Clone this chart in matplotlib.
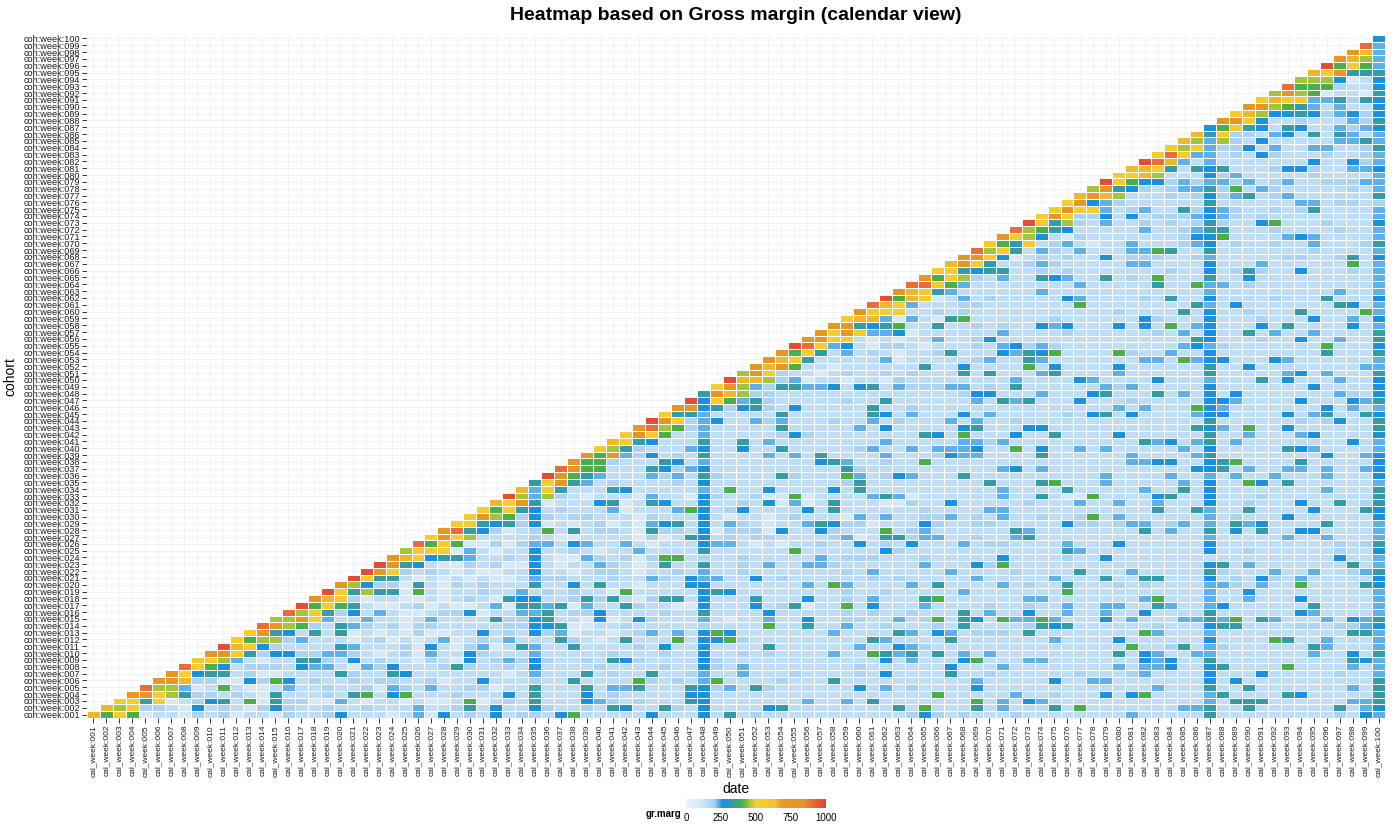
import numpy as np
import matplotlib
matplotlib.use("Agg")
import matplotlib.pyplot as plt
from matplotlib.colors import LinearSegmentedColormap, Normalize
import matplotlib.colorbar as mcolorbar

plt.rcParams['font.family'] = ['Liberation Sans', 'DejaVu Sans']

# ---------------- data ----------------
n_weeks = 100
cohorts = ["coh:week:%03d" % i for i in range(1, n_weeks + 1)]
cal_weeks = ["cal_week:%03d" % i for i in range(1, n_weeks + 1)]

# gross margin value read for each colour level seen in the picture
code_values = {'0': 30, '1': 90, '2': 150, '3': 195, '4': 232, '5': 262,
               '6': 330, '7': 400, '8': 455, '9': 540, 'a': 650, 'b': 740,
               'c': 900, 'd': 980}

# row i = cohort i, starting at calendar week i (values coded with code_values)
gr_marg_codes = [
 "a7971" "22132" "31221" "32235" "22212" "41523" "252" "33257" "22222" "52225" "26232" "22222" "22222" "353" "23222" "32222" "22224" "22222" "62222" "22222" "3254",
 "a8933" "21523" "21353" "22322" "32224" "22362" "52" "25322" "32652" "26325" "22225" "62222" "22226" "272" "22624" "22262" "72222" "22244" "62262" "22222" "6245",
 "99691" "23562" "71633" "11421" "22121" "12712" "3" "26222" "54323" "22265" "22222" "22422" "42622" "222" "22724" "25422" "22222" "22222" "42666" "22222" "2446",
 "bb986" "33232" "16222" "32672" "57222" "32225" "26222" "52322" "22255" "22222" "22222" "22222" "227" "22222" "42232" "22525" "72222" "46222" "26522" "2226",
 "c8841" "27211" "24223" "22314" "32422" "3312" "26222" "62446" "22265" "34263" "22222" "25242" "322" "22522" "22222" "22222" "24222" "62262" "22222" "2426",
 "bba33" "11537" "52322" "32332" "23122" "522" "23226" "22227" "32324" "72222" "32226" "22222" "222" "22422" "22252" "24422" "22222" "52522" "22222" "2226",
 "b9566" "23112" "22263" "22652" "22222" "21" "24222" "62322" "62234" "22422" "23222" "23252" "222" "62232" "22222" "32223" "42222" "52225" "22222" "3224",
 "c9752" "33325" "44214" "35222" "36322" "3" "25222" "23222" "23225" "32422" "22222" "23222" "222" "52224" "22222" "22242" "44522" "56222" "27222" "2424",
 "99842" "12266" "32523" "22132" "15234" "35322" "32653" "22225" "32222" "22222" "22252" "422" "25722" "24422" "22222" "54522" "62222" "22222" "2654",
 "bb963" "55334" "43212" "31422" "5322" "24222" "22322" "23225" "22323" "22224" "22764" "626" "24242" "22222" "22262" "54224" "42222" "22242" "2526",
 "da953" "22226" "42223" "15213" "412" "64226" "22223" "25225" "22226" "22222" "24225" "432" "22222" "22222" "22227" "22362" "43222" "22264" "2224",
 "97883" "42221" "23121" "24123" "24" "22263" "21262" "22725" "57322" "22222" "22642" "222" "62222" "22242" "22252" "22222" "52222" "76224" "2224",
 "9b652" "62612" "12131" "12252" "3" "25341" "22123" "42425" "75222" "22224" "22226" "425" "42333" "26222" "22222" "74222" "42222" "22222" "2664",
 "cb873" "26432" "31332" "22223" "35561" "12232" "22223" "22227" "22622" "42232" "223" "26222" "23656" "22222" "23222" "56622" "22332" "3345",
 "88b94" "22422" "12422" "2263" "35622" "15125" "32224" "21224" "22522" "33224" "237" "26527" "44742" "22524" "22244" "64726" "42224" "2546",
 "c8963" "52421" "12335" "122" "44623" "35222" "23226" "22225" "22222" "32322" "322" "26242" "25224" "22422" "52222" "62222" "22542" "2224",
 "d7976" "21123" "12112" "41" "66461" "42263" "22115" "22252" "36122" "72522" "242" "22232" "23224" "22442" "26422" "45222" "22262" "2224",
 "ba931" "22112" "12321" "6" "55223" "63621" "36625" "22262" "22522" "32422" "267" "22222" "24422" "22222" "47222" "42242" "22522" "2224",
 "d9686" "61721" "22322" "42323" "22172" "22225" "65222" "22222" "32232" "222" "24222" "22227" "22222" "22222" "42252" "22222" "2224",
 "b8533" "16213" "2322" "26225" "26221" "22255" "22222" "22427" "42222" "426" "22224" "23226" "22232" "32222" "44324" "22722" "2265",
 "d9662" "12121" "211" "24332" "22322" "43254" "42252" "32222" "22323" "222" "22422" "22242" "22622" "66222" "52325" "32422" "2225",
 "db932" "32121" "12" "25221" "23321" "22324" "22322" "22222" "32422" "222" "42222" "32222" "62224" "22222" "63222" "42242" "2346",
 "db652" "11323" "1" "15212" "24321" "26226" "22324" "22443" "22222" "242" "22537" "22222" "22222" "22222" "56242" "22222" "2624",
 "ba956" "64223" "25211" "43231" "37723" "22322" "22242" "33322" "232" "22225" "22223" "22522" "22222" "22222" "22222" "5224",
 "89991" "4212" "25223" "21224" "22226" "22222" "27222" "22253" "222" "22222" "22226" "42222" "22222" "52232" "22222" "3225",
 "c7971131" "34425" "42242" "12225" "44212" "12232" "25232" "522" "24233" "22224" "22252" "22222" "52222" "22222" "3236",
 "9b98222" "23211" "22221" "31265" "23233" "22223" "41266" "344" "22322" "46222" "22222" "22222" "42222" "24224" "2224",
 "bc6531" "23726" "23321" "63325" "13331" "52253" "22272" "342" "22222" "64222" "22222" "62422" "62526" "22552" "2224",
 "99656" "35121" "23121" "45625" "24321" "22465" "33122" "253" "22332" "22225" "33234" "42342" "42645" "22226" "2224",
 "9b87" "35323" "32221" "32225" "21221" "23222" "14242" "233" "42324" "22322" "37242" "22222" "42322" "25222" "2225",
 "979" "65232" "22412" "22475" "23522" "22526" "22222" "232" "22244" "22222" "22222" "26226" "42262" "22252" "2265",
 "a9" "b6122" "25612" "65225" "22325" "14126" "22211" "322" "52222" "23222" "42242" "24222" "52232" "22522" "6236",
 "d" "84832" "12221" "42215" "32231" "17122" "22464" "122" "22224" "22621" "17222" "25622" "52223" "22222" "2226",
 "a4962" "22652" "22224" "27225" "22225" "26222" "222" "22224" "22226" "22222" "42262" "52222" "22224" "2226",
 "69b64" "23222" "23252" "22222" "22223" "62222" "22" "22262" "22672" "22422" "22242" "52275" "26222" "2224",
 "db764" "22243" "42632" "22263" "22274" "23542" "2" "26222" "22222" "22422" "22422" "42422" "42224" "2225",
 "cb772" "22653" "45222" "22222" "22632" "22222" "22224" "52422" "22222" "22225" "56242" "24424" "2245",
 "b7732" "22652" "42222" "22225" "64223" "2272" "22222" "22222" "22224" "45522" "56722" "22622" "2225",
 "b7b43" "52326" "22224" "24262" "22242" "223" "54422" "22622" "22224" "22224" "62222" "22225" "2245",
 "98632" "22452" "25226" "22222" "34224" "24" "44522" "72522" "42422" "22242" "52222" "26542" "2224",
 "a9652" "22622" "62422" "22222" "24222" "2" "24434" "22222" "22222" "64524" "62422" "22222" "2524",
 "9b972" "24222" "22353" "22222" "22265" "27222" "52262" "22252" "22222" "62242" "22452" "2225",
 "bc873" "42222" "26222" "22425" "2222" "25622" "25522" "22222" "22226" "54272" "25222" "2226",
 "db934" "52243" "42223" "22423" "222" "42422" "32222" "22222" "22222" "62222" "22323" "5226",
 "96642" "22226" "22222" "26524" "22" "25242" "22223" "25625" "22224" "55222" "25246" "2265",
 "bb563" "56325" "22222" "62232" "2" "22222" "22222" "22242" "42227" "54222" "22225" "2424",
 "d5974" "63222" "22322" "62222" "22426" "46222" "52223" "22222" "55422" "22522" "2546",
 "6ba83" "32222" "22222" "2222" "23552" "22422" "25622" "26242" "52522" "22222" "4325",
 "9b843" "66445" "25624" "333" "44232" "62222" "22434" "22222" "52222" "22252" "2225",
 "daa83" "41221" "22132" "22" "22222" "42222" "54222" "25222" "42226" "25222" "4225",
 "8b932" "21232" "23232" "2" "26262" "22462" "22242" "22222" "62222" "24524" "2226",
 "bab72" "21222" "22262" "25222" "27252" "22252" "22222" "62252" "22222" "2244",
 "ba962" "22224" "1222" "22342" "26422" "22222" "44274" "55222" "54222" "2224",
 "b7962" "42321" "223" "62225" "46572" "22273" "22422" "52222" "22226" "2226",
 "dc945" "21332" "12" "22324" "53432" "22222" "22245" "43222" "22227" "2225",
 "bb992" "12122" "4" "22352" "22222" "22222" "22226" "52223" "22522" "4226",
 "b9b94" "45122" "22224" "22223" "22222" "23242" "52262" "42242" "2226",
 "bb656" "7226" "22323" "22545" "22252" "52724" "52225" "26222" "2524",
 "9aa41421" "67222" "22232" "22222" "53222" "52223" "22252" "2425",
 "b999223" "23222" "22222" "22232" "22262" "52232" "22622" "2274",
 "ca9422" "23322" "22222" "72222" "22226" "42522" "22222" "6524",
 "d7a91" "24232" "22225" "42222" "32622" "52222" "32226" "2225",
 "ba96" "42222" "22422" "22222" "22222" "42222" "22222" "4224",
 "cc9" "74222" "22222" "42222" "26227" "44232" "22222" "2224",
 "b7" "98324" "22654" "22623" "27222" "62252" "22222" "2224",
 "9" "96566" "22323" "22222" "22322" "52363" "22522" "2324",
 "ab962" "23432" "22224" "42222" "52224" "22222" "2724",
 "bb951" "23232" "25233" "32234" "22222" "33223" "625",
 "c8962" "43242" "22447" "62262" "22222" "23222" "24",
 "97692" "34212" "24222" "34523" "22322" "42223" "6",
 "b9852" "13222" "22223" "55722" "22454" "22224",
 "c8765" "22222" "42234" "66222" "32222" "3224",
 "d9683" "24223" "23236" "32257" "22232" "225",
 "9b933" "52523" "33454" "32322" "22222" "24",
 "9b994" "23422" "63543" "22323" "62222" "4",
 "9b543" "22222" "26222" "22244" "23323",
 "aba82" "22323" "53462" "34222" "2226",
 "8b653" "23446" "37243" "22222" "324",
 "d9755" "34344" "34234" "22333" "44",
 "99a82" "22534" "22222" "32222" "4",
 "aa962" "65622" "23553" "22445",
 "dca42" "42222" "22252" "2534",
 "9c944" "23253" "22232" "234",
 "98943" "35242" "24422" "36",
 "a8483" "25222" "22446" "4",
 "a6933" "24526" "26424",
 "57965" "26522" "4345",
 "bb952" "23222" "436",
 "9a855" "65345" "35",
 "bb876" "42422" "5",
 "9a994" "46365",
 "8b871" "2216",
 "c7773" "225",
 "88851" "25",
 "a9b66" "6",
 "d7974",
 "ba84",
 "ba4",
 "c4",
 "5",
]

# ---------------- matrix ----------------
Z = np.full((n_weeks, n_weeks), np.nan)
for i, s in enumerate(gr_marg_codes):
    for k, ch in enumerate(s[: n_weeks - i]):
        Z[i, i + k] = code_values[ch]
Zm = np.ma.masked_invalid(Z)

# ---------------- colours ----------------
cmap = LinearSegmentedColormap.from_list("grmarg", [
    (0.00, "#eaf3fb"), (0.10, "#d5e8f7"), (0.20, "#a9d1f1"), (0.26, "#1a91dc"),
    (0.30, "#2297cc"), (0.34, "#3a9c9a"), (0.40, "#4cae48"), (0.45, "#9cc23e"),
    (0.50, "#f5cf30"), (0.64, "#f0c331"), (0.68, "#e69a22"), (0.84, "#e4932a"),
    (0.91, "#ea683a"), (1.00, "#e1452f")])
norm = Normalize(0, 1000)

# ---------------- figure ----------------
W, H = 1400, 840
fig = plt.figure(figsize=(W / 100, H / 100), dpi=100)
fig.patch.set_facecolor("white")
ax = fig.add_axes([87 / W, 1 - 718 / H, (1385 - 87) / W, (718 - 35) / H])

x_edges = np.arange(0.5, n_weeks + 1.5, 1.0)
y_edges = np.arange(0.5, n_weeks + 1.5, 1.0)
ax.set_axisbelow(True)
ax.grid(True, color="#ebebeb", linewidth=0.5)
ax.pcolormesh(x_edges, y_edges, Zm, cmap=cmap, norm=norm,
              edgecolors="white", linewidth=0.6)
ax.set_xlim(0.5, n_weeks + 0.5)
ax.set_ylim(0.5, n_weeks + 0.5)
for sp in ax.spines.values():
    sp.set_visible(False)

pos = np.arange(1, n_weeks + 1)
ax.set_xticks(pos)
ax.set_xticklabels(cal_weeks, rotation=90, fontsize=6.0, color="#1a1a1a")
ax.set_yticks(pos)
ax.set_yticklabels(cohorts, fontsize=6.6, color="#1a1a1a")
ax.tick_params(axis="both", length=3.5, width=0.7, color="#333333", pad=1.5)

ax.set_xlabel("date", fontsize=10, labelpad=4)
ax.set_ylabel("cohort", fontsize=10, labelpad=4)

fig.text(736 / W, 1 - 15 / H, "Heatmap based on Gross margin (calendar view)",
         ha="center", va="center", fontsize=14, fontweight="bold")

# legend colour bar
cax = fig.add_axes([686 / W, 1 - 808 / H, 140 / W, 9 / H])
cb = mcolorbar.ColorbarBase(cax, cmap=cmap, norm=norm, orientation="horizontal")
cb.outline.set_visible(False)
cb.set_ticks([0, 250, 500, 750, 1000])
cb.ax.tick_params(labelsize=7, length=2, color="white", pad=1.5)
fig.text(681 / W, 1 - 814 / H, "gr.marg", ha="right", va="center",
         fontsize=7, fontweight="bold")

fig.savefig("out.png", dpi=100, facecolor="white")
